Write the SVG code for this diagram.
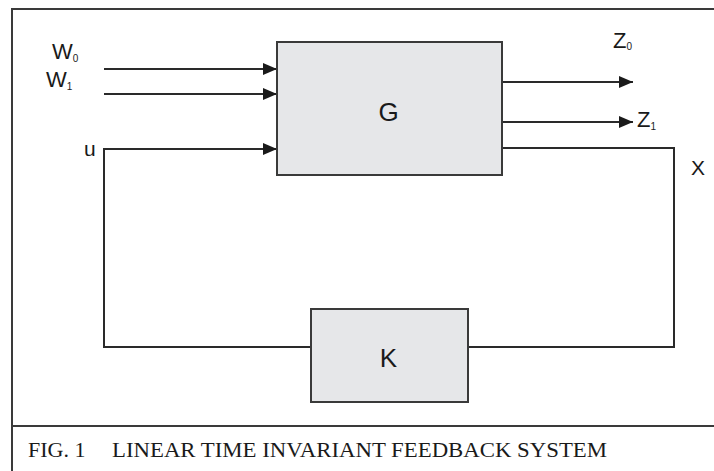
<svg xmlns="http://www.w3.org/2000/svg" width="714" height="471" viewBox="0 0 714 471">
  <style>
    .frame { fill: none; stroke: #3a3a3a; stroke-width: 2; }
    .block { fill: #e6e7e9; stroke: #3a3a3a; stroke-width: 2; }
    .wire { fill: none; stroke: #2a2a2a; stroke-width: 2; }
    .lbl { font-family: "Liberation Sans", Arial, sans-serif; fill: #1a1a1a; }
    .sub { font-family: "Liberation Sans", Arial, sans-serif; fill: #1a1a1a; font-size: 10px; }
    .cap { font-family: "Liberation Serif", "Times New Roman", serif; fill: #1a1a1a; font-size: 22px; }
  </style>
  <defs>
    <marker id="arrow" markerWidth="14" markerHeight="12" refX="14" refY="6" orient="auto" markerUnits="userSpaceOnUse">
      <path d="M0,0 L14,6 L0,12 Z" fill="#1a1a1a"/>
    </marker>
  </defs>

  <rect width="714" height="471" fill="#ffffff"/>

  <!-- figure frame and caption divider -->
  <g id="frame">
    <rect class="frame" x="12" y="9" width="720" height="480"/>
    <line class="frame" x1="12" y1="426" x2="714" y2="426"/>
  </g>

  <!-- signal connectors -->
  <g id="connectors">
    <line class="wire" x1="104" y1="69" x2="277" y2="69" marker-end="url(#arrow)"/>
    <line class="wire" x1="104" y1="94" x2="277" y2="94" marker-end="url(#arrow)"/>
    <polyline class="wire" points="311,347 104,347 104,149 277,149" marker-end="url(#arrow)"/>
    <line class="wire" x1="502" y1="82" x2="633" y2="82" marker-end="url(#arrow)"/>
    <line class="wire" x1="502" y1="122" x2="633" y2="122" marker-end="url(#arrow)"/>
    <polyline class="wire" points="502,148 674,148 674,347 468,347"/>
  </g>

  <!-- plant -->
  <g id="node-G">
    <rect class="block" x="277" y="42" width="225" height="133"/>
    <text class="lbl" x="388.5" y="121" font-size="26" text-anchor="middle">G</text>
  </g>

  <!-- controller -->
  <g id="node-K">
    <rect class="block" x="311" y="309" width="157" height="93"/>
    <text class="lbl" x="388.5" y="367" font-size="26" text-anchor="middle">K</text>
  </g>

  <!-- signal labels -->
  <g id="labels">
    <text class="lbl" x="52" y="59" font-size="22">W<tspan class="sub" dy="3">0</tspan></text>
    <text class="lbl" x="46" y="87" font-size="22">W<tspan class="sub" dy="3">1</tspan></text>
    <text class="lbl" x="84" y="156" font-size="21">u</text>
    <text class="lbl" x="613" y="48" font-size="22">Z<tspan class="sub" dy="2">0</tspan></text>
    <text class="lbl" x="637" y="127" font-size="22">Z<tspan class="sub" dy="3">1</tspan></text>
    <text class="lbl" x="691" y="175" font-size="21">X</text>
  </g>

  <!-- caption -->
  <g id="caption">
    <text class="cap" x="28" y="457">FIG. 1</text>
    <text class="cap" x="112" y="457" textLength="495" lengthAdjust="spacingAndGlyphs">LINEAR TIME INVARIANT FEEDBACK SYSTEM</text>
  </g>
</svg>
